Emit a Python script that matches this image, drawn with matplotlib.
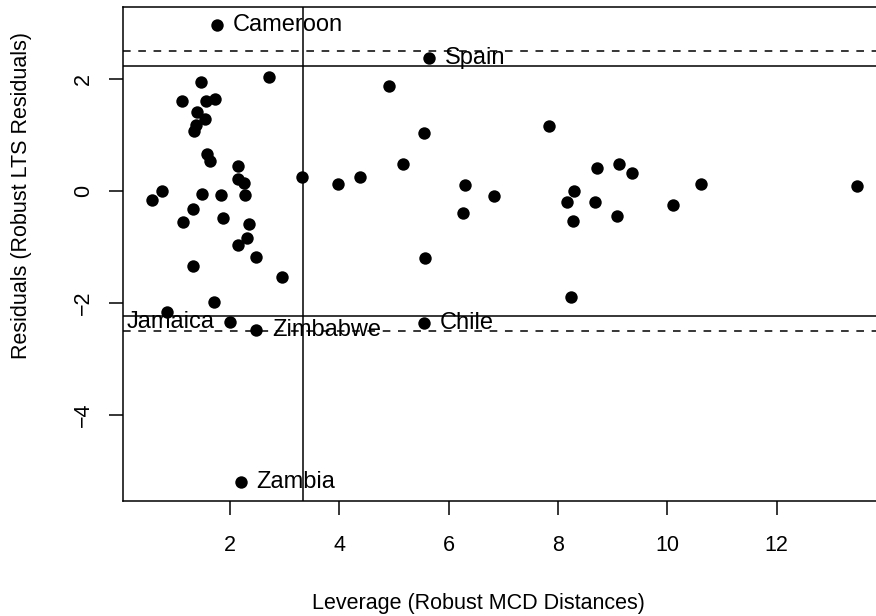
import numpy as np
import matplotlib.pyplot as plt

plt.rcParams['font.family'] = ['Liberation Sans', 'DejaVu Sans']

# robust MCD distances (leverage) and robust LTS residuals
leverage = [1.469, 1.122, 1.555, 1.731, 1.402, 1.543, 1.378, 1.341, 2.719, 1.579,
            1.640, 2.152, 2.146, 2.256, 2.274, 1.835, 1.497, 0.750, 0.567, 1.332,
            1.145, 1.877, 2.348, 2.306, 2.150, 2.485, 1.328, 2.952, 1.702, 0.853,
            2.005, 2.481, 2.196, 1.757, 3.323, 3.971, 4.388, 4.904, 5.160, 5.550,
            5.563, 5.647, 5.555, 6.295, 6.258, 6.831, 7.832, 8.300, 8.163, 8.282,
            8.245, 8.721, 9.113, 9.356, 8.684, 9.087, 10.112, 10.624, 13.467]
residuals = [1.942, 1.602, 1.602, 1.643, 1.416, 1.280, 1.178, 1.071, 2.031, 0.654,
             0.534, 0.445, 0.212, 0.135, -0.074, -0.074, -0.056, 0.006, -0.169, -0.316,
             -0.563, -0.477, -0.584, -0.835, -0.960, -1.178, -1.335, -1.536, -1.983, -2.167,
             -2.341, -2.484, -5.214, 2.967, 0.242, 0.131, 0.253, 1.876, 0.480, 1.030,
             -1.207, 2.371, -2.369, 0.099, -0.391, -0.087, 1.165, -0.008, -0.194, -0.536,
             -1.899, 0.414, 0.475, 0.314, -0.199, -0.450, -0.257, 0.131, 0.087]
names = ['Cameroon', 'Spain', 'Jamaica', 'Zimbabwe', 'Chile', 'Zambia']
name_idx = [33, 41, 30, 31, 42, 32]
name_side = ['right', 'right', 'left', 'right', 'right', 'right']

res_cut = 2.2414      # sqrt(qchisq(0.975, 1))
res_cut2 = 2.5
lev_cut = 3.338       # sqrt(qchisq(0.975, 4))

x = np.array(leverage)
y = np.array(residuals)

fig = plt.figure(figsize=(8.76, 6.16), dpi=100)
ax = fig.add_axes([0.1408, 0.1872, 0.8695, 0.8019])

ax.scatter(x, y, s=80, color='black', linewidths=0, zorder=3)

for v in (res_cut, -res_cut):
    ax.axhline(v, color='black', lw=1.1)
for v in (res_cut2, -res_cut2):
    ax.axhline(v, color='black', lw=1.1, linestyle=(0, (5, 5)))
ax.axvline(lev_cut, color='black', lw=1.1)

for name, i, side in zip(names, name_idx, name_side):
    dx = 11.5 if side == 'right' else -11.5
    ax.annotate(name, (x[i], y[i]), xytext=(dx, 0), textcoords='offset points',
                ha='left' if side == 'right' else 'right', va='center',
                fontsize=17, zorder=4)

# R style 4% padding
rx = x.max() - x.min()
ry = y.max() - y.min()
ax.set_xlim(x.min() - 0.04 * rx, x.max() + 0.04 * rx)
ax.set_ylim(y.min() - 0.04 * ry, y.max() + 0.04 * ry)

ax.set_xticks([2, 4, 6, 8, 10, 12])
ax.set_yticks([-4, -2, 0, 2])
ax.tick_params(direction='out', length=10, width=1.1, labelsize=15.5)
ax.tick_params(axis='x', pad=15)
ax.tick_params(axis='y', pad=11)
for lab in ax.get_yticklabels():
    lab.set_rotation(90)
    lab.set_va('center')
for s in ax.spines.values():
    s.set_linewidth(1.1)

fig.text(478 / 876, 1 - 603 / 616, 'Leverage (Robust MCD Distances)',
         ha='center', va='center', fontsize=15.5)
fig.text(22 / 876, 1 - 196 / 616, 'Residuals (Robust LTS Residuals)',
         ha='center', va='center', rotation=90, fontsize=15.5)

fig.savefig('out.png', dpi=100)
